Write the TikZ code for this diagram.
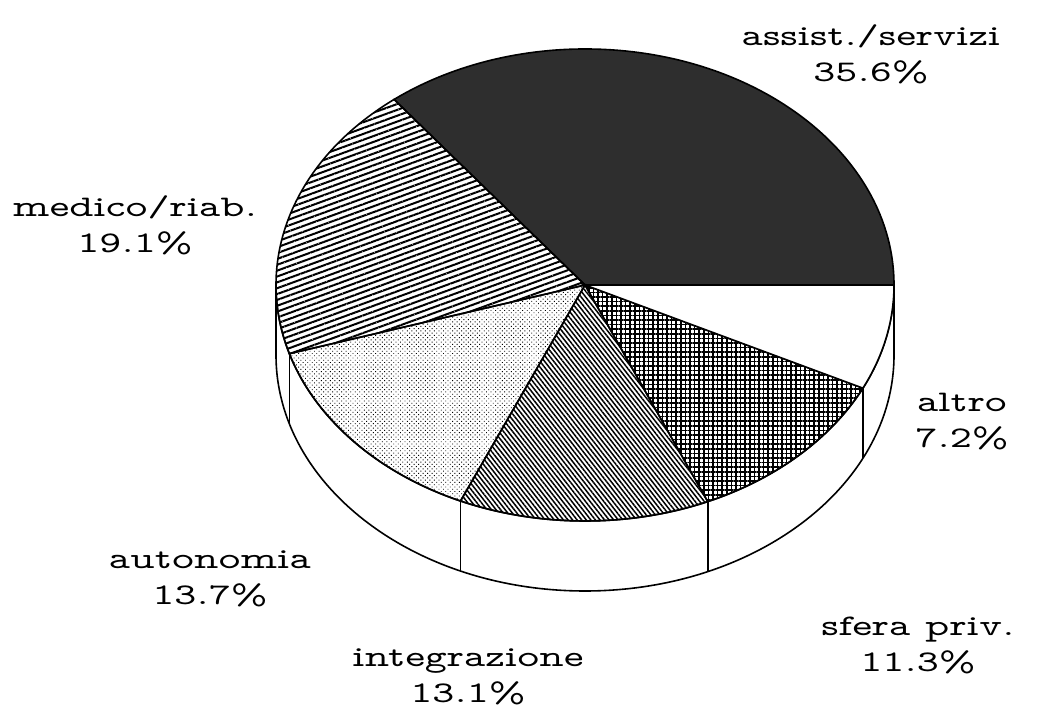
\documentclass[tikz,border=0pt]{standalone}
\usepackage{tikz}
\usetikzlibrary{patterns.meta,calc}
\newcommand{\pielbl}[2]{\scalebox{1.4}[1]{#1}\\\scalebox{1.4}[1]{#2}}

\begin{document}
\begin{tikzpicture}[x=1pt,y=1pt,
    lbl/.style={align=center,font=\fontfamily{lmvtt}\fontsize{30}{36}\selectfont},
    wall/.style={draw,line width=1.6pt,fill=white},
    sassist/.style={fill=black!82},
    smedico/.style={pattern={Lines[angle=20,distance=5.5pt,line width=2pt]}},
    sauton/.style={pattern={Dots[angle=45,distance=3.2pt,radius=0.65pt]}},
    sinteg/.style={pattern={Lines[angle=-52,distance=3.6pt,line width=1.5pt]}},
    ssfera/.style={pattern={Hatch[angle=0,distance=4.6pt,line width=1.5pt]}},
    saltro/.style={fill=white}]
\useasboundingbox (0,0) rectangle (1049,711);
\coordinate (C) at (585,426);

% side of the pie
\draw[wall] (C) ++(180:309 and 236) -- ++(0,-70)
    arc[start angle=180,end angle=360,x radius=309,y radius=236] -- ++(0,70)
    arc[start angle=360,end angle=180,x radius=309,y radius=236] -- cycle;
\foreach \a in {196.92,246.24,293.4,334.08}
    \draw[line width=1.6pt] (C) ++(\a:309 and 236) -- ++(0,-70);

% slices
\foreach \a/\b/\s in {0/128.16/sassist,128.16/196.92/smedico,196.92/246.24/sauton,
        246.24/293.4/sinteg,293.4/334.08/ssfera,334.08/360/saltro}
    \draw[line width=1.6pt,\s] (C) -- ++(\a:309 and 236)
        arc[start angle=\a,end angle=\b,x radius=309,y radius=236] -- cycle;

% labels
\node[lbl] (lassist) at (871,657) {\pielbl{assist./servizi}{35.6\%}};
\node[lbl] (lmedico) at (135,486) {\pielbl{medico/riab.}{19.1\%}};
\node[lbl] (laltro) at (962,289) {\pielbl{altro}{7.2\%}};
\node[lbl] (lsfera) at (918,66) {\pielbl{sfera priv.}{11.3\%}};
\node[lbl] (lauton) at (210,132) {\pielbl{autonomia}{13.7\%}};
\node[lbl] (linteg) at (468,34) {\pielbl{integrazione}{13.1\%}};
\end{tikzpicture}
\end{document}
